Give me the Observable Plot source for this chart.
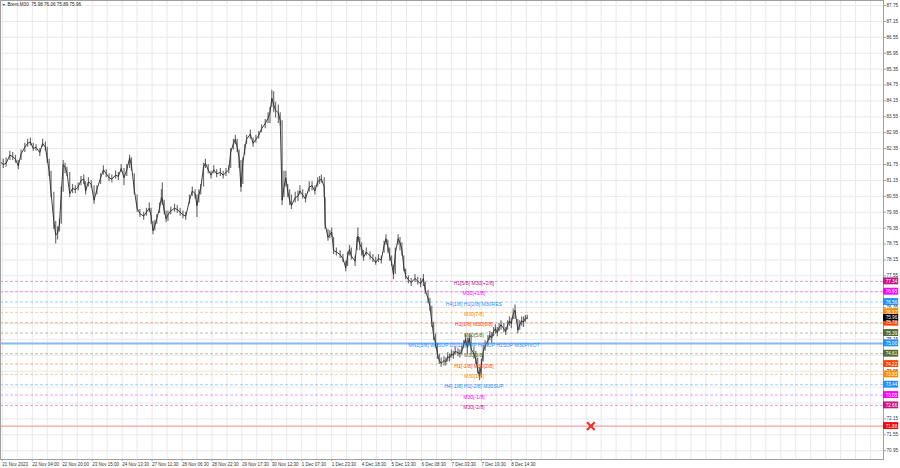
<!DOCTYPE html>
<html>
<head>
<meta charset="utf-8">
<script src="https://cdn.jsdelivr.net/npm/d3@7"></script>
<script src="https://cdn.jsdelivr.net/npm/@observablehq/plot@0.6"></script>
<style>
  html, body { margin: 0; padding: 0; background: #ffffff; }
  #chart { width: 900px; height: 468px; overflow: hidden; }
</style>
</head>
<body>
<div id="chart"></div>
<script>
// ---- header ----
const symbolName = "Brent,M30";
const headerVals = [75.98, 76.06, 75.89, 75.96];

// ---- price series (M30 bar index, approximate readings) ----
const bars = [
  0,3,6,10,13,16,19,22,26,29,
  32,35,38,42,45,48,50,52,54,57,
  59,61,63,65,67,69,71,74,77,80,
  83,86,89,91,94,97,100,103,107,110,
  113,116,119,123,126,129,132,135,138,140,
  143,146,149,153,156,159,161,163,165,167,
  170,172,173,175,177,179,182,186,189,192,
  195,198,202,205,208,210,212,214,217,219,
  222,225,228,231,235,238,241,244,246,249,
  251,253,255,257,259,261,263,267,270,273,
  276,279,283,286,288,290,292,294,297,299,
  301,303,305,307,309,311,315,318,320,323,
  326,330,333,336,339,341,343,346,347,350,
  352,354,356,359,363,366,369,371,373,375,
  379,381,382,384,386,388,391,395,398,401,
  404,407,410,412,414,416,418,420,422,425,
  427,429,431,433,436,439,443,446,449,452,
  454,457,459,461,463,465,467,469,471,474,
  476,478,480,482,484,486,489,491,493,495,
  497,499,501,503,506,508,510,512,514,516,
  518,521,523,525,527,529,531,533,535,538,
  540,542,544,546,548,550,553,555,557,559,
  561,563
];
const closes = [
  81.85,81.75,81.80,82.10,82.05,81.95,81.70,82.15,82.40,82.55,
  82.60,82.35,82.40,82.20,82.55,82.40,81.95,81.50,80.70,79.60,
  79.10,79.15,79.50,80.70,81.75,81.65,81.45,80.65,80.85,80.80,
  80.90,81.15,81.20,80.75,81.10,81.00,80.40,80.80,81.25,81.55,
  81.40,81.25,81.20,81.35,81.30,81.60,81.25,81.55,82.00,81.70,
  80.80,80.10,79.90,79.80,79.95,80.10,79.80,79.25,79.45,79.70,
  80.10,80.50,80.45,80.00,79.70,79.85,80.00,80.10,80.05,79.95,
  79.85,79.80,80.40,80.75,80.65,80.20,80.60,80.85,81.65,81.80,
  81.55,81.35,81.55,81.40,81.45,81.35,81.45,81.55,82.20,82.55,
  82.70,82.40,82.00,80.90,81.80,82.30,82.70,82.90,82.55,82.70,
  82.85,83.10,83.30,83.50,83.70,84.25,84.00,83.80,83.70,83.40,
  80.40,80.90,81.25,80.75,80.40,80.20,80.50,80.55,80.75,80.60,
  80.45,80.90,80.95,80.75,81.10,81.15,81.20,80.90,79.50,79.00,
  79.10,79.20,78.50,78.45,78.35,78.20,77.85,78.30,78.55,78.30,
  78.10,78.80,79.05,78.75,78.60,78.25,78.45,78.30,78.20,78.05,
  78.20,78.15,78.70,78.95,78.65,78.30,78.05,77.60,78.40,78.95,
  78.80,78.55,77.90,77.55,77.40,77.30,77.45,77.35,77.25,77.45,
  77.00,76.70,76.40,75.80,75.30,75.00,74.60,74.35,74.25,74.35,
  74.30,74.50,74.45,74.60,74.55,74.70,74.65,74.60,74.70,74.95,
  75.15,74.85,75.20,74.80,74.60,74.40,74.00,73.75,74.20,74.70,
  74.90,75.10,75.30,75.20,75.45,75.55,75.40,75.60,75.70,75.55,
  75.45,75.70,75.85,75.75,76.10,76.25,75.50,75.70,75.85,75.80,
  75.95,75.96
];
const highs = [
  82.0,81.95,82.0,82.25,82.2,82.1,81.9,82.3,82.55,82.7,
  82.75,82.55,82.5,82.35,82.7,82.6,82.4,81.95,81.5,80.7,
  79.6,79.4,79.7,80.9,81.9,81.8,81.65,81.45,81.0,80.95,
  81.05,81.3,81.35,81.1,81.25,81.15,80.95,80.95,81.4,81.7,
  81.55,81.4,81.35,81.5,81.45,81.75,81.6,81.75,82.1,82.0,
  81.4,80.6,80.05,79.95,80.1,80.3,80.1,79.6,79.65,79.85,
  80.3,80.8,81.05,80.4,80.0,80.0,80.15,80.25,80.2,80.1,
  80.0,79.95,80.6,80.9,80.8,80.6,80.8,81.0,81.8,81.95,
  81.75,81.5,81.7,81.55,81.6,81.5,81.6,81.7,82.35,82.7,
  82.85,82.7,82.3,81.9,82.0,82.5,82.85,83.05,82.75,82.85,
  83.0,83.25,83.45,83.7,83.9,84.55,84.5,84.1,84.0,83.7,
  83.4,81.5,81.5,81.0,80.8,80.6,80.7,80.75,80.95,80.8,
  80.65,81.1,81.1,80.95,81.25,81.3,81.35,81.25,80.5,79.3,
  79.25,79.35,79.0,78.6,78.5,78.35,78.1,78.45,78.7,78.6,
  78.3,79.0,79.35,79.0,78.8,78.5,78.6,78.45,78.35,78.25,
  78.35,78.3,78.85,79.1,78.9,78.6,78.3,77.95,78.6,79.1,
  79.0,78.8,78.3,77.8,77.55,77.45,77.6,77.5,77.45,77.6,
  77.3,77.0,76.7,76.4,75.8,75.35,75.0,74.6,74.45,74.5,
  74.45,74.65,74.6,74.75,74.7,74.85,74.8,74.75,74.9,75.1,
  75.35,75.2,75.35,75.3,74.85,74.7,74.45,74.1,74.4,74.9,
  75.1,75.3,75.45,75.4,75.6,75.7,75.6,75.75,75.85,75.75,
  75.6,75.85,76.0,75.95,76.3,76.45,75.9,75.85,76.0,76.0,
  76.05,76.06
];
const lows = [
  81.7,81.6,81.65,81.9,81.9,81.8,81.55,81.9,82.2,82.4,
  82.45,82.25,82.25,82.05,82.4,82.25,81.8,81.3,80.5,79.3,
  78.75,78.9,79.2,79.5,80.7,81.4,81.3,80.5,80.65,80.65,
  80.75,80.95,81.0,80.6,80.9,80.85,80.25,80.6,81.0,81.35,
  81.25,81.1,81.05,81.2,81.15,81.45,80.95,81.3,81.6,81.5,
  80.6,79.95,79.75,79.65,79.8,79.95,79.5,79.1,79.25,79.5,
  79.9,80.3,80.2,79.85,79.55,79.6,79.85,79.95,79.9,79.8,
  79.7,79.65,80.25,80.55,80.45,79.75,80.3,80.6,80.9,81.6,
  81.4,81.2,81.4,81.25,81.3,81.2,81.3,81.4,81.6,82.3,
  82.5,82.2,81.6,80.7,81.0,82.1,82.5,82.7,82.4,82.55,
  82.7,82.95,83.1,83.3,83.3,83.9,83.7,83.5,83.3,83.2,
  80.2,80.5,80.9,80.5,80.2,80.05,80.3,80.35,80.6,80.45,
  80.3,80.7,80.75,80.6,80.9,81.0,81.05,80.5,79.3,78.85,
  78.95,79.0,78.35,78.3,78.2,78.05,77.7,77.9,78.3,78.15,
  77.9,78.5,78.8,78.5,78.3,78.1,78.3,78.15,78.05,77.95,
  78.05,78.0,78.4,78.7,78.4,78.1,77.9,77.4,77.6,78.7,
  78.5,78.3,77.7,77.4,77.25,77.15,77.3,77.2,77.1,77.15,
  76.85,76.5,76.2,75.6,75.1,74.8,74.4,74.2,74.1,74.15,
  74.15,74.3,74.3,74.45,74.4,74.55,74.5,74.45,74.55,74.8,
  74.9,74.6,74.9,74.6,74.4,74.2,73.85,73.6,73.7,74.3,
  74.7,74.9,75.1,75.0,75.25,75.35,75.25,75.45,75.5,75.4,
  75.3,75.5,75.65,75.55,75.9,75.9,75.35,75.5,75.65,75.6,
  75.8,75.89
];

// ---- Murrey-style levels ----
const levelPrices = [77.34, 76.95, 76.56, 76.17, 75.78, 75.39, 75.00, 74.61, 74.22, 73.83, 73.44, 73.05, 72.66];
const levelNames = [
  "H1[5/8] M30[+2/8]", "M30[+1/8]", "H4[1/8] H1[2/8] M30RES", "M30[7/8]",
  "H1[1/8] M30[6/8]", "M30[5/8]", "MN1[3/8] W1SUP D1[1/8]SUP H4SUP H1SUP M30PIVOT",
  "M30[3/8]", "H1[-1/8] M30[2/8]", "M30[1/8]", "H4[-1/8] H1[-2/8] M30SUP",
  "M30[-1/8]", "M30[-2/8]"
];
const levelColors = ["#c71585","#ff00ff","#1e90ff","#ff8c00","#ff4500","#556b2f","#1e90ff","#556b2f","#ff4500","#ff8c00","#1e90ff","#ff00ff","#c71585"];
const pivotPrice = 75.00;
const stopPrice = 71.88;
const stopMarkBar = 631;
const currentPrice = 75.96;
const labelBar = 506;

// ---- axis ticks ----
const yTicks = [70.95,71.55,72.15,72.75,73.35,73.95,74.55,75.15,75.75,76.35,76.95,77.55,78.15,78.75,79.35,79.95,80.55,81.15,81.75,82.35,82.95,83.55,84.15,84.75,85.35,85.95,86.55,87.15,87.75];
const xLabels = ["21 Nov 2023","22 Nov 04:00","22 Nov 20:00","23 Nov 15:00","24 Nov 13:30","27 Nov 11:30","28 Nov 06:30","28 Nov 22:30","29 Nov 17:30","30 Nov 12:30","1 Dec 07:30","1 Dec 23:30","4 Dec 18:30","5 Dec 13:30","6 Dec 08:30","7 Dec 03:30","7 Dec 19:30","8 Dec 14:30"];
const xLabelBars = [2,34,66,98,130,162,194,226,258,290,322,354,386,418,450,482,514,546];

// ---- build tables ----
const series = bars.map((b, i) => ({bar: b, close: closes[i], high: highs[i], low: lows[i]}));
const levels = levelPrices.map((p, i) => ({price: p, name: levelNames[i], color: levelColors[i]}));
const dashedLevels = levels.filter(d => d.price !== pivotPrice);
const boxes = [
  ...levels,
  {price: currentPrice, name: "", color: "#000000"},
  {price: stopPrice, name: "", color: "#ff0000"}
];
// price labels that the coloured boxes cover completely are not drawn
const shownTicks = yTicks.filter(t => !boxes.some(b => Math.abs(b.price - t) < 0.105));
const labelMap = new Map(xLabelBars.map((b, i) => [b, xLabels[i]]));
const xMax = 943.8;
const gridBars = d3.range(2, xMax, 16);
const font = "Liberation Sans, Arial, sans-serif";

const chart = Plot.plot({
  width: 900,
  height: 468,
  marginLeft: 0,
  marginRight: 17,
  marginTop: 0,
  marginBottom: 9,
  x: {domain: [0, xMax], axis: null, label: null},
  y: {domain: [70.618, 87.9387], axis: null, label: null},
  style: {background: "#ffffff", fontFamily: font, overflow: "visible"},
  marks: [
    Plot.gridY(yTicks, {stroke: "#e9e9e9", strokeOpacity: 1}),
    Plot.gridX(gridBars, {stroke: "#e9e9e9", strokeOpacity: 1}),
    Plot.ruleY(dashedLevels, {y: "price", stroke: "color", strokeOpacity: 0.42, strokeDasharray: "3,2"}),
    Plot.ruleY([pivotPrice], {stroke: "#86b8f3", strokeWidth: 2}),
    Plot.ruleY([stopPrice], {stroke: "#f4a2a2", strokeWidth: 1.3}),
    Plot.ruleX(series, {x: "bar", y1: "low", y2: "high", stroke: "#707070", strokeWidth: 1.2}),
    Plot.line(series, {x: "bar", y: "close", stroke: "#2a2a2a", strokeWidth: 0.9}),
    Plot.text(levels, {x: () => labelBar, y: "price", text: "name", fill: "color", fontSize: 5.1, dy: 2, textAnchor: "middle"}),
    Plot.dot([stopPrice], {x: () => stopMarkBar, y: d => d, symbol: "times", r: 3.6, stroke: "#f03030", strokeWidth: 2.2}),
    Plot.frame({stroke: "#a0a0a0"}),
    Plot.axisY(shownTicks, {anchor: "right", label: null, tickSize: 2, tickPadding: 1, fontSize: 4.6, fill: "#333", stroke: "#a0a0a0", tickFormat: d => d.toFixed(2)}),
    Plot.rect(boxes, {x1: () => xMax, x2: () => xMax + 16.2, y1: d => d.price - 0.13, y2: d => d.price + 0.13, fill: "color"}),
    Plot.text(boxes, {x: () => xMax, y: "price", text: d => d.price.toFixed(2), dx: 2.2, textAnchor: "start", fill: "#ffffff", fontSize: 4.6}),
    Plot.axisX(xLabelBars, {anchor: "bottom", label: null, tickSize: 2, tickPadding: 1, fontSize: 4.5, fill: "#333", stroke: "#a0a0a0", textAnchor: "start", tickFormat: d => labelMap.get(d)}),
    Plot.text(["\u25BC"], {frameAnchor: "top-left", dx: 1.5, dy: 3, fontSize: 3.6, fill: "#333", textAnchor: "start", lineAnchor: "top"}),
    Plot.text([symbolName + "  " + headerVals.map(v => v.toFixed(2)).join(" ")], {frameAnchor: "top-left", dx: 7, dy: 2.6, fontSize: 4.6, fill: "#222", textAnchor: "start", lineAnchor: "top"})
  ]
});
document.getElementById("chart").appendChild(chart);
</script>
</body>
</html>
